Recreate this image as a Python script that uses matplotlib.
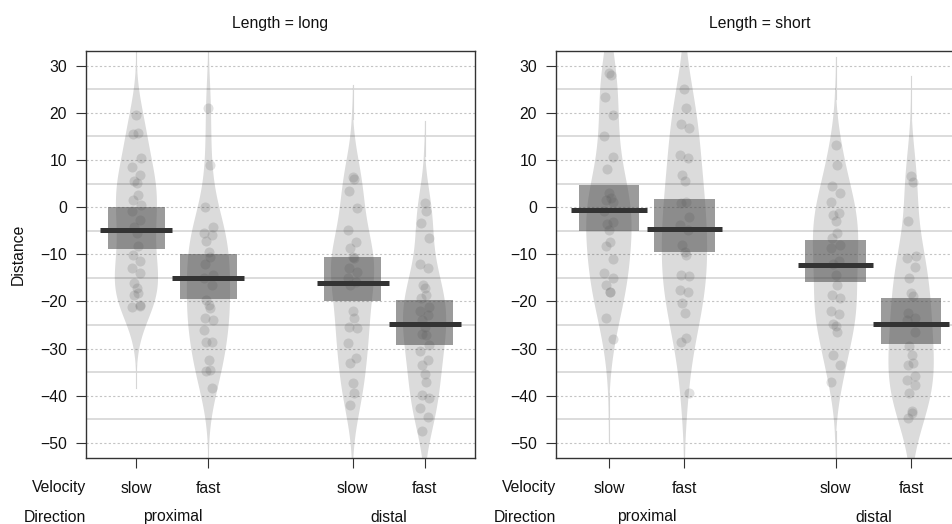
import numpy as np
import matplotlib
matplotlib.use("Agg")
import matplotlib.pyplot as plt
from matplotlib.transforms import blended_transform_factory

plt.rcParams['font.family'] = ['Liberation Sans', 'DejaVu Sans']

# factor levels
lengths = ['long', 'short']
directions = ['proximal', 'distal']
velocities = ['slow', 'fast']

# raw points (Distance)
long_prox_slow = [19.5, 15.7, 15.6, 10.5, 8.6, 6.8, 5.6, 5.1, 2.6, 1.5, 0.5, -0.9,
                  -2.7, -4.1, -5.5, -8.3, -10.1, -11.4, -12.9, -14.0, -16.1, -17.2,
                  -18.2, -18.6, -20.7, -21.1, -21.0]
long_prox_fast = [21.1, 9.0, 0.1, -4.1, -5.4, -5.9, -7.1, -9.4, -10.5, -12.1, -14.4,
                  -15.1, -16.6, -19.6, -20.7, -21.3, -23.4, -23.9, -26.0, -28.5, -28.6,
                  -32.4, -34.5, -34.8, -38.4]
long_dist_slow = [6.5, 6.0, 3.4, -0.1, -4.8, -7.3, -8.6, -10.5, -10.8, -12.9, -13.8,
                  -15.1, -15.8, -16.6, -22.0, -23.5, -25.5, -25.6, -28.8, -31.9, -33.1,
                  -37.3, -39.4, -41.9]
long_dist_fast = [0.8, -0.9, -3.4, -6.6, -12.1, -12.9, -16.5, -17.2, -18.6, -19.3,
                  -21.1, -22.1, -22.8, -23.9, -25.5, -27.1, -27.0, -29.2, -30.6, -32.4,
                  -33.4, -35.4, -37.0, -39.8, -40.5, -42.5, -44.4, -47.4]
short_prox_slow = [28.4, 28.0, 23.4, 19.5, 15.2, 10.7, 8.1, 3.0, 2.0, 1.5, 1.0, -0.9,
                   -3.2, -3.6, -4.8, -7.3, -8.3, -11.0, -14.0, -15.1, -16.5, -17.9,
                   -18.0, -23.4, -27.9]
short_prox_fast = [25.1, 21.0, 17.6, 16.7, 11.1, 10.4, 6.8, 5.6, 1.0, 0.9, -2.0, -3.8,
                   -4.8, -8.0, -9.5, -10.1, -14.4, -14.6, -17.5, -17.9, -20.4, -22.5,
                   -27.8, -28.5, -39.4]
short_dist_slow = [13.1, 8.9, 4.6, 3.0, 1.0, -1.3, -1.6, -2.9, -5.5, -6.6, -8.0, -8.6,
                   -11.5, -12.1, -14.4, -16.6, -18.6, -19.2, -22.1, -22.7, -24.8, -25.1,
                   -26.5, -31.3, -33.4, -37.0]
short_dist_fast = [6.7, 5.4, -2.9, -10.3, -10.8, -12.6, -15.1, -18.2, -18.9, -22.5,
                   -23.4, -23.9, -26.4, -29.5, -31.3, -33.1, -33.4, -35.9, -36.6, -37.7,
                   -39.4, -43.2, -43.7, -44.7]

# means and inference bands (order: prox slow, prox fast, dist slow, dist fast)
long_means = [-4.9, -15.1, -16.1, -24.8]
long_inf_hi = [0.0, -10.0, -10.5, -19.6]
long_inf_lo = [-8.9, -19.4, -20.0, -29.3]
short_means = [-0.6, -4.7, -12.2, -24.8]
short_inf_hi = [4.7, 1.8, -7.0, -19.2]
short_inf_lo = [-5.0, -9.4, -15.9, -29.0]

panels = {
    'long': ([long_prox_slow, long_prox_fast, long_dist_slow, long_dist_fast],
             long_means, long_inf_lo, long_inf_hi),
    'short': ([short_prox_slow, short_prox_fast, short_dist_slow, short_dist_fast],
              short_means, short_inf_lo, short_inf_hi),
}


def bw_nrd0(x):
    # R's default bandwidth
    sd = np.std(x, ddof=1)
    q75, q25 = np.percentile(x, [75, 25])
    lo = min(sd, (q75 - q25) / 1.34)
    return 0.9 * lo * len(x) ** -0.2


def bean(x):
    x = np.asarray(x)
    bw = bw_nrd0(x)
    grid = np.linspace(x.min() - 3 * bw, x.max() + 3 * bw, 512)
    dens = np.exp(-0.5 * ((grid[:, None] - x[None, :]) / bw) ** 2).sum(axis=1)
    return grid, dens / dens.max()


W, H = 952, 524
fig = plt.figure(figsize=(W / 100, H / 100), dpi=100)
# axes boxes in pixels: left, top, right, bottom
boxes = [(86, 50.7, 475, 458), (556, 50.7, 964, 458)]
positions = [1, 2, 4, 5]
fs = 11.3

for k, length in enumerate(lengths):
    l, t, r, b = boxes[k]
    ax = fig.add_axes([l / W, 1 - b / H, (r - l) / W, (b - t) / H])
    groups, means, lo, hi = panels[length]

    for v in range(-50, 31, 10):
        ax.axhline(v, color='#c4c4c4', lw=0.8, ls=(0, (2, 2)), zorder=0)
    for v in range(-45, 30, 10):
        ax.axhline(v, color='#d2d2d2', lw=1.1, zorder=0)

    for i, pos in enumerate(positions):
        g, d = bean(groups[i])
        ax.fill_betweenx(g, pos - 0.3 * d, pos + 0.3 * d, facecolor='#000000',
                         alpha=0.14, lw=0, zorder=1)
        # thin tails of the bean
        tail = np.where(0.3 * d < 0.012, pos, np.nan)
        ax.plot(tail, g, color='#d6d6d6', lw=0.8, zorder=1)
        pts = np.asarray(groups[i])
        jit = 0.06 * np.sin(np.arange(len(pts)) * 2.7)
        ax.scatter(pos + jit, pts, s=52, color='#555555', alpha=0.18,
                   linewidths=0, zorder=2)
        ax.bar(pos, hi[i] - lo[i], bottom=lo[i], width=0.8, color='#505050',
               alpha=0.57, lw=0, zorder=3)
        ax.hlines(means[i], pos - 0.5, pos + 0.5, color='#333333', lw=3.6, zorder=4)

    ax.set_xlim(0.3, 5.7)
    ax.set_ylim(-53.2, 33.2)
    ax.set_yticks(range(-50, 31, 10))
    ax.set_xticks(positions, velocities * 2)
    ax.tick_params(axis='both', direction='out', length=7.2, width=0.8,
                   color='#333333', labelsize=fs, labelcolor='#111111')
    ax.tick_params(axis='y', pad=6.5)
    ax.tick_params(axis='x', pad=9.5)
    for s in ax.spines.values():
        s.set_color('#333333')
        s.set_linewidth(1.0)

    ax.text(0.5, 1 + 27.5 / (b - t), 'Length = ' + length, transform=ax.transAxes,
            ha='center', va='center', fontsize=fs, color='#111111')
    tr = blended_transform_factory(ax.transData, ax.transAxes)
    ax.text(0, (b - 488) / (b - t), 'Velocity', transform=ax.transAxes,
            ha='right', va='center', fontsize=fs, color='#111111')
    ax.text(0, (b - 517) / (b - t), 'Direction', transform=ax.transAxes,
            ha='right', va='center', fontsize=fs, color='#111111')
    for j, dname in enumerate(directions):
        ax.text(np.mean(positions[2 * j:2 * j + 2]), (b - 517) / (b - t), dname,
                transform=tr, ha='center', va='center', fontsize=fs, color='#111111')

fig.text(18 / W, 1 - 254 / H, 'Distance', rotation=90, ha='center', va='center',
         fontsize=fs, color='#111111')

fig.savefig('out.png', dpi=100)
